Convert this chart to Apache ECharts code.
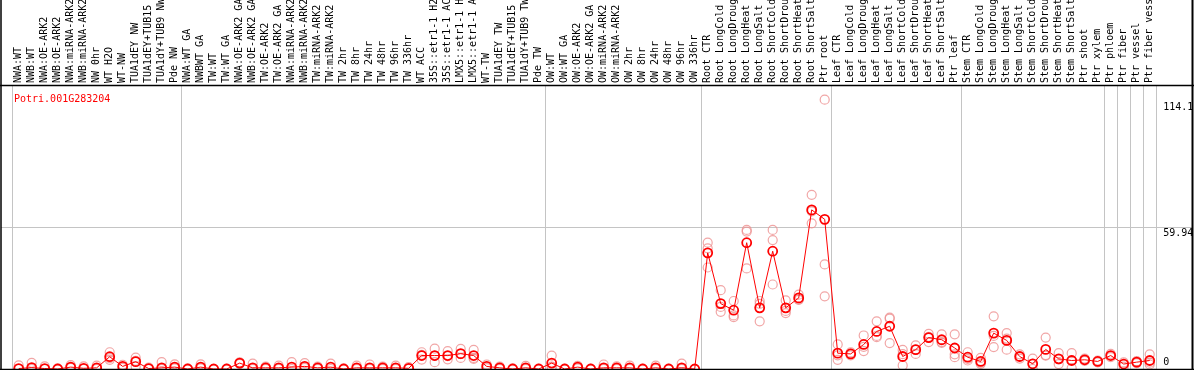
<!DOCTYPE html>
<html><head><meta charset="utf-8">
<script src="https://cdn.jsdelivr.net/npm/echarts@6/dist/echarts.min.js"></script>
<style>html,body{margin:0;padding:0;background:#fff}#c{width:1194px;height:370px}</style>
</head><body><div id="c"></div>
<script>
const geneId = 'Potri.001G283204';
const categories = [
'NWA:WT','NWB:WT','NWA:OE-ARK2','NWB:OE-ARK2','NWA:miRNA-ARK2','NWB:miRNA-ARK2','NW 0hr','WT H2O','WT-NW','TUA1dEY NW','TUA1dEY+TUB15 NW','TUA1dY+TUB9 NW','Pde NW',
'NWA:WT GA','NWBWT GA','TW:WT','TW:WT GA','NWA:OE-ARK2 GA','NWB:OE-ARK2 GA','TW:OE-ARK2','TW:OE-ARK2 GA','NWA:miRNA-ARK2','NWB:miRNA-ARK2','TW:miRNA-ARK2','TW:miRNA-ARK2','TW 2hr','TW 8hr','TW 24hr','TW 48hr','TW 96hr','TW 336hr','WT ACC','35S::etr1-1 H2O','35S::etr1-1 ACC','LMX5::etr1-1 H2O','LMX5::etr1-1 ACC','WT-TW','TUA1dEY TW','TUA1dEY+TUB15 TW','TUA1dY+TUB9 TW','Pde TW',
'OW:WT','OW:WT GA','OW:OE-ARK2','OW:OE-ARK2 GA','OW:miRNA-ARK2','OW:miRNA-ARK2','OW 2hr','OW 8hr','OW 24hr','OW 48hr','OW 96hr','OW 336hr',
'Root CTR','Root LongCold','Root LongDrought','Root LongHeat','Root LongSalt','Root ShortCold','Root ShortDrought','Root ShortHeat','Root ShortSalt','Ptr root',
'Leaf CTR','Leaf LongCold','Leaf LongDrought','Leaf LongHeat','Leaf LongSalt','Leaf ShortCold','Leaf ShortDrought','Leaf ShortHeat','Leaf ShortSalt','Ptr leaf',
'Stem CTR','Stem LongCold','Stem LongDrought','Stem LongHeat','Stem LongSalt','Stem ShortCold','Stem ShortDrought','Stem ShortHeat','Stem ShortSalt','Ptr shoot',
'Ptr xylem','Ptr phloem','Ptr fiber','Ptr vessel','Ptr fiber vessel'];
const means = [
0.2,0.6,0.2,0,0.8,0.3,0.5,5.2,1.1,3.1,0.2,0.5,0.8,
0,0.8,0,0,2.5,0.5,0.5,0.5,0.8,1.1,0.5,0.8,0,0.5,0.5,0.5,0.5,0.3,5.7,5.7,5.7,6.5,5.7,1.1,0.5,0,0.5,0,
2.5,0,0.8,0,0.5,0.5,0.5,0,0.5,0,0.5,0,
49.2,27.7,24.9,53.5,25.9,49.9,25.9,30.1,67.4,63.4,
6.7,6.4,10.4,15.9,18.1,5.3,8.2,13.3,12.4,8.9,
5.0,3.2,15.2,12.1,5.3,2.2,8.3,4.3,3.6,3.9,
3.2,5.7,2.1,2.9,3.6];
const rep1 = [
1.5,2.6,1.1,0.3,1.6,1.1,1.4,7.1,1.8,4.8,0.6,2.9,2.0,
0.3,2.0,0,0.2,2.8,2.3,1.0,1.4,2.9,2.5,1.0,2.3,0.3,1.4,1.9,1.0,1.4,0.8,7.1,8.6,7.6,8.5,8.1,1.9,1.0,0.3,1.3,0.2,
5.7,0.2,1.3,0.2,1.9,1.1,1.4,0.2,1.4,0.2,2.3,0,
53.5,33.4,28.8,58.9,28.8,58.9,29.1,31.5,73.8,114.1,
10.4,7.0,14.2,20.2,21.8,8.1,10.0,14.9,14.7,14.7,
7.1,4.7,22.3,15.2,6.2,4.4,13.3,6.7,6.7,4.4,
3.6,6.4,2.8,3.3,6.2];
const rep2 = [
0,0,0,null,0.5,0,0,3.9,0.5,1.0,0,0,0.3,
null,0.3,null,null,2.2,0,0,0,0,0.5,0,0,null,0,0,0,0,0,4.0,2.9,4.1,4.7,4.7,0.4,0,null,0,null,
0.8,null,0.3,null,0,0,0,null,0,null,0,null,
51.1,24.2,22.7,58.2,27.6,54.6,24.6,29.5,61.7,44.3,
3.9,5.8,7.6,13.5,21.3,1.5,6.4,11.4,11.4,6.2,
3.6,2.2,9.3,8.2,4.4,0,5.7,2.1,0.4,3.4,
2.8,5.0,1.0,2.5,1.9];
const rep3 = [
null,null,null,null,null,null,null,4.6,null,3.5,null,null,null,
null,null,null,null,null,null,null,null,null,null,null,null,null,null,null,null,null,null,6.0,5.6,5.4,6.3,4.3,null,null,null,null,null,
1.0,null,null,null,null,null,null,null,null,null,null,null,
43.0,26.3,22.0,42.6,20.2,35.8,23.7,29.3,66.8,30.8,
5.8,6.4,9.4,14.0,11.0,6.3,8.2,13.6,11.1,5.0,
4.3,2.7,14.0,12.9,5.3,2.2,5.9,4.1,3.7,null,
null,null,null,null,2.7];
const yTickLabels = [0, 59.94, 114.1];
const groupStarts = [0, 13, 41, 53, 63, 73, 84, 85, 86, 87];

const Y_MAX = 120.3;
const FONT = 'DejaVu Sans Mono';
const RED = '#ff0000';
const PINK = '#ee9090';
const GRID = '#c4c4c4';

const chart = echarts.init(document.getElementById('c'), null, {renderer: 'canvas'});
const isGroupStart = (i) => groupStarts.indexOf(i) >= 0;

function repSeries(arr) {
  return {
    type: 'scatter', xAxisIndex: 0, yAxisIndex: 0, data: arr,
    symbol: 'circle', symbolSize: 9, z: 3, silent: true,
    itemStyle: {color: 'rgba(0,0,0,0)', borderColor: PINK, borderWidth: 1.2}
  };
}

chart.setOption({
  animation: false,
  title: {text: geneId, left: 9, top: 89,
    textStyle: {color: RED, fontFamily: FONT, fontSize: 10, fontWeight: 'normal'}},
  grid: [
    {left: 12.2, right: 37.8, top: 85, bottom: 1, outerBoundsMode: 'none', containLabel: false},
    {left: 1, right: 1, top: 85, bottom: 1, outerBoundsMode: 'none', containLabel: false}
  ],
  xAxis: [
    {type: 'category', gridIndex: 0, position: 'top', data: categories, boundaryGap: true,
     axisLine: {show: false},
     axisTick: {show: true, length: 85, interval: isGroupStart, lineStyle: {color: GRID, width: 1}},
     splitLine: {show: true, interval: isGroupStart, lineStyle: {color: GRID, width: 1}},
     axisLabel: {interval: 0, rotate: 90, margin: 2, color: '#000', fontFamily: FONT, fontSize: 10, hideOverlap: false}},
    {type: 'value', gridIndex: 1, show: false, min: 0, max: 1}
  ],
  yAxis: [
    {type: 'value', gridIndex: 0, position: 'right', min: 0, max: Y_MAX,
     axisLine: {show: false}, axisTick: {show: false}, splitLine: {show: false},
     axisLabel: {customValues: yTickLabels, margin: 7, color: '#000', fontFamily: FONT, fontSize: 10,
       formatter: function (v) {
         if (v === yTickLabels[0]) return '{b|' + v + '}';
         if (v === yTickLabels[2]) return '{t|' + v + '}';
         return '{m|' + v + '}';
       },
       rich: {
         t: {padding: [15, 0, 0, 0], fontFamily: FONT, fontSize: 10, color: '#000'},
         m: {padding: [11, 0, 0, 0], fontFamily: FONT, fontSize: 10, color: '#000'},
         b: {padding: [0, 0, 13, 0], fontFamily: FONT, fontSize: 10, color: '#000'}
       }}},
    {type: 'value', gridIndex: 1, min: 0, max: Y_MAX, interval: yTickLabels[1],
     axisLine: {show: false}, axisTick: {show: false}, axisLabel: {show: false},
     splitLine: {show: true, lineStyle: {color: ['rgba(0,0,0,0)', GRID, 'rgba(0,0,0,0)', 'rgba(0,0,0,0)'], width: 1}}}
  ],
  series: [
    repSeries(rep1), repSeries(rep2), repSeries(rep3),
    {type: 'line', xAxisIndex: 0, yAxisIndex: 0, data: means, z: 5, silent: true,
     symbol: 'circle', symbolSize: 9, showAllSymbol: true,
     lineStyle: {color: RED, width: 1},
     itemStyle: {color: 'rgba(0,0,0,0)', borderColor: RED, borderWidth: 1.8}}
  ],
  graphic: [
    {type: 'line', shape: {x1: 1, y1: 0, x2: 1, y2: 370}, style: {stroke: '#000', lineWidth: 1.5}, z: 100},
    {type: 'line', shape: {x1: 1192.5, y1: 0, x2: 1192.5, y2: 370}, style: {stroke: '#000', lineWidth: 2}, z: 100},
    {type: 'line', shape: {x1: 0, y1: 85.5, x2: 1194, y2: 85.5}, style: {stroke: '#000', lineWidth: 1.5}, z: 100},
    {type: 'line', shape: {x1: 0, y1: 369.5, x2: 1194, y2: 369.5}, style: {stroke: '#000', lineWidth: 1.5}, z: 100}
  ]
});
</script>
</body></html>
